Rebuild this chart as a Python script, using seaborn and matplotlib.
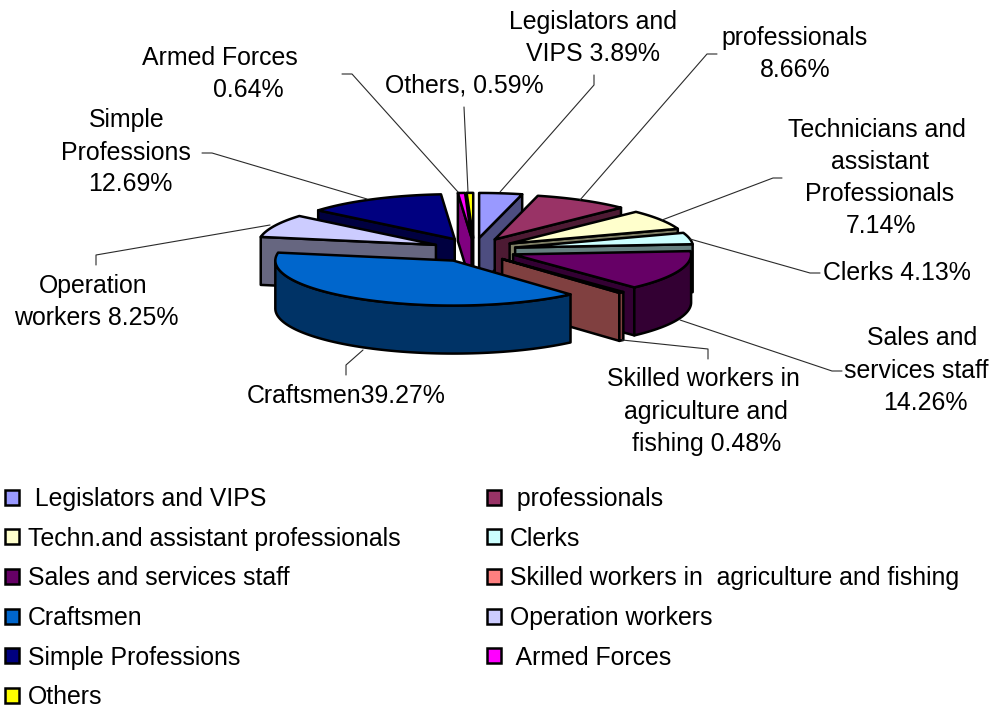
import numpy as np
import matplotlib
matplotlib.use('Agg')
import matplotlib.pyplot as plt
from matplotlib.patches import Patch
import seaborn as sns

# dados
legend_names = [' Legislators and VIPS', ' professionals', 'Techn.and assistant professionals', 'Clerks',
                'Sales and services staff', 'Skilled workers in  agriculture and fishing', 'Craftsmen',
                'Operation workers', 'Simple Professions', ' Armed Forces', 'Others']
percents = [3.89, 8.66, 7.14, 4.13, 14.26, 0.48, 39.27, 8.25, 12.69, 0.64, 0.59]
hex_colors = ['#9999FF', '#993366', '#FFFFCC', '#CCFFFF', '#660066', '#FF8080',
              '#0066CC', '#CCCCFF', '#000080', '#FF00FF', '#FFFF00']

# rotulos: (texto, x centro, y centro)
labels = [('Legislators and', 593, 22), ('VIPS 3.89%', 593, 54),
          ('professionals', 795, 38), ('8.66%', 795, 70),
          ('Technicians and', 877, 130), ('assistant', 880, 162), ('Professionals', 880, 194), ('7.14%', 881, 226),
          ('Clerks 4.13%', 897, 273),
          ('Sales and', 922, 338), ('services staff', 916, 371), ('14.26%', 925, 403),
          ('Skilled workers in', 703, 379), ('agriculture and', 706, 412), ('fishing 0.48%', 707, 444),
          ('Craftsmen39.27%', 346, 396),
          ('Operation', 93, 286), ('workers 8.25%', 96, 318),
          ('Simple', 127, 120), ('Professions', 126, 153), ('12.69%', 130, 184),
          ('Armed Forces', 220, 58), ('0.64%', 248, 90),
          ('Others, 0.59%', 464, 86)]

leaders = [[(594, 75), (594, 85), (500, 192)],
           [(717, 54), (707, 54), (580, 200)],
           [(782, 178), (773, 178), (662, 220)],
           [(820, 273), (810, 273), (690, 239)],
           [(842, 371), (832, 371), (680, 320)],
           [(708, 359), (708, 349), (622, 340)],
           [(346, 375), (346, 365), (363, 350)],
           [(96, 265), (96, 255), (270, 225)],
           [(202, 153), (212, 153), (367, 199)],
           [(342, 74), (352, 74), (458, 192)],
           [(464, 107), (468, 192)]]

# geometria da pizza 3D
cx, cy = 474, 250
rx, ry = 178, 45
depth = 48
explode_x, explode_y = 0.236, 0.27
edge_w = 1.8
font_sz = 17.9

sns.set_theme(style='white')
plt.rcParams['font.family'] = ['Liberation Sans', 'DejaVu Sans']
palette = sns.color_palette(hex_colors)

fig = plt.figure(figsize=(9.95, 7.09), dpi=100)
ax = fig.add_axes([0, 0, 1, 1])
ax.set_xlim(0, 995)
ax.set_ylim(709, 0)
ax.axis('off')

ends = np.cumsum(percents) * 3.6
starts = ends - np.array(percents) * 3.6
mids = (starts + ends) / 2

def arc(x0, y0, t0, t1):
    t = np.radians(np.linspace(t0, t1, 80))
    return np.column_stack([x0 + rx * np.sin(t), y0 - ry * np.cos(t)])

def poly(pts, color):
    ax.fill(pts[:, 0], pts[:, 1], facecolor=color, edgecolor='black', lw=edge_w, joinstyle='round')

# de tras para frente
for i in np.argsort(-np.cos(np.radians(mids))):
    x0 = cx + explode_x * rx * np.sin(np.radians(mids[i]))
    y0 = cy - explode_y * ry * np.cos(np.radians(mids[i]))
    shade = tuple(c * 0.5 for c in palette[i])
    drop = np.array([0, depth])
    for t, visible in ((starts[i], np.sin(np.radians(starts[i])) < 0), (ends[i], np.sin(np.radians(ends[i])) > 0)):
        if visible:
            outer = arc(x0, y0, t, t)[0]
            apex = np.array([x0, y0])
            poly(np.array([apex, outer, outer + drop, apex + drop]), shade)
    t0, t1 = max(starts[i], 90), min(ends[i], 270)
    if t1 > t0:
        top = arc(x0, y0, t0, t1)
        poly(np.vstack([top, (top + drop)[::-1]]), shade)
    poly(np.vstack([[x0, y0], arc(x0, y0, starts[i], ends[i])]), palette[i])

for pts in leaders:
    xs, ys = zip(*pts)
    ax.plot(xs, ys, color='#2a2a2a', lw=0.8)

for txt, x, y in labels:
    ax.text(x, y, txt, ha='center', va='center', fontsize=font_sz, color='black')

# legenda em duas colunas, lida por linha
handles = [Patch(facecolor=palette[i], edgecolor='black', lw=edge_w) for i in range(len(percents))]
order = list(range(0, 11, 2)) + list(range(1, 11, 2))
ax.legend([handles[i] for i in order], [legend_names[i] for i in order], ncols=2, frameon=False,
          loc='upper left', bbox_to_anchor=(0, 482), bbox_transform=ax.transData, fontsize=font_sz,
          handlelength=0.55, handleheight=0.55, handletextpad=0.36, labelspacing=0.63,
          columnspacing=3.5, borderpad=0, borderaxespad=0.2, labelcolor='black')

plt.savefig('out.png', dpi=100)
